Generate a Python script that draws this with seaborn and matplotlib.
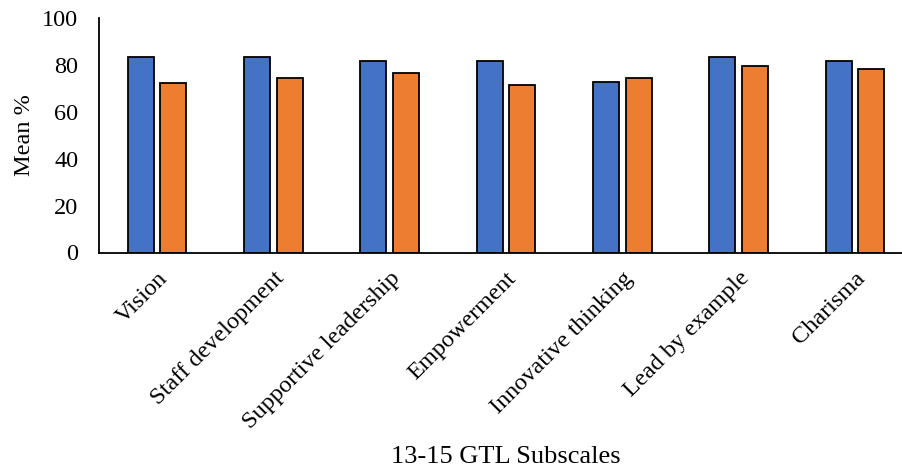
import matplotlib
matplotlib.use("Agg")
import matplotlib.pyplot as plt
import seaborn as sns
import pandas as pd

# GTL subscale means for the two groups
subscales = ["Vision", "Staff development", "Supportive leadership", "Empowerment",
             "Innovative thinking", "Lead by example", "Charisma"]
group_a = [83.7, 83.7, 82.0, 82.0, 73.0, 83.7, 82.0]
group_b = [72.4, 74.7, 76.8, 71.7, 74.7, 79.7, 78.5]
groups = ["Group A", "Group B"]
palette = ["#4472C4", "#ED7D31"]

df = pd.DataFrame({
    "Subscale": subscales * 2,
    "Mean": group_a + group_b,
    "Group": [groups[0]] * len(subscales) + [groups[1]] * len(subscales),
})

sns.set_theme(style="white")
plt.rcParams["font.family"] = ["Liberation Serif", "DejaVu Serif"]

fig = plt.figure(figsize=(9.02, 4.74), dpi=100)
ax = fig.add_axes([99 / 902, 221.5 / 474, 814 / 902, 234 / 474])

sns.barplot(data=df, x="Subscale", y="Mean", hue="Group", palette=palette,
            saturation=1, width=0.56, gap=0.2, edgecolor="black", linewidth=1.3,
            legend=False, ax=ax)

fs = 17.5
ax.set_ylim(0, 100)
ax.set_yticks([0, 20, 40, 60, 80, 100])
ax.set_xlim(-0.5, len(subscales) - 0.5)
ax.tick_params(axis="both", length=0, labelsize=fs, colors="black")
ax.tick_params(axis="y", pad=15)
ax.tick_params(axis="x", pad=11)
for lbl in ax.get_xticklabels():
    lbl.set_rotation(45)
    lbl.set_ha("right")
    lbl.set_rotation_mode("anchor")

ax.set_ylabel("Mean %", fontsize=fs, color="black", labelpad=5)
ax.set_xlabel("13-15 GTL Subscales", fontsize=19, color="black", va="center")
ax.xaxis.set_label_coords(0.5, -0.876)

for side in ["top", "right"]:
    ax.spines[side].set_visible(False)
for side in ["left", "bottom"]:
    ax.spines[side].set_color("black")
    ax.spines[side].set_linewidth(1.3)

fig.savefig("out.png", dpi=100)
